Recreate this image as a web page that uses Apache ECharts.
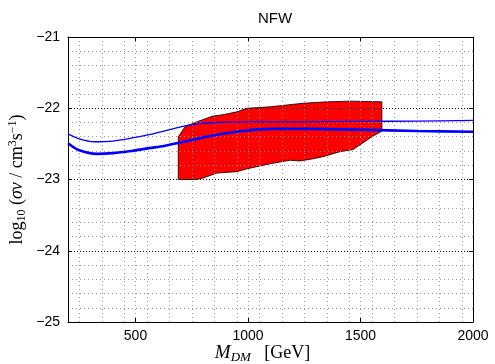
<!DOCTYPE html>
<html><head><meta charset="utf-8">
<script src="https://cdn.jsdelivr.net/npm/echarts@6/dist/echarts.min.js"></script>
<style>html,body{margin:0;padding:0;background:#fff}#c{width:495px;height:364px}</style>
</head><body><div id="c"></div>
<script>
// Data
const xTicks = [500, 1000, 1500, 2000];
const yTicks = [-25, -24, -23, -22, -21];

const thinX = [200, 250, 316, 400, 480, 560, 627, 700, 773, 850, 1000, 1250, 1500, 1750, 2000];
const thinY = [-22.36, -22.43, -22.47, -22.46, -22.42, -22.37, -22.32, -22.26, -22.22, -22.2, -22.19, -22.19, -22.185, -22.18, -22.17];

const thickX = [200, 250, 329, 400, 480, 560, 627, 700, 773, 850, 951, 1098, 1275, 1500, 1750, 2000];
const thickY = [-22.49, -22.59, -22.64, -22.63, -22.6, -22.56, -22.53, -22.48, -22.43, -22.38, -22.33, -22.29, -22.29, -22.3, -22.32, -22.33];

const regionX = [690, 690, 720, 773, 844, 889, 951, 996, 1098, 1244, 1351, 1453, 1595, 1595, 1551, 1467, 1409, 1333, 1289, 1231, 1187, 1098, 996, 951, 862, 800, 773, 690];
const regionY = [-23.0, -22.40, -22.26, -22.19, -22.11, -22.09, -22.05, -22.0, -21.98, -21.93, -21.91, -21.90, -21.91, -22.32, -22.40, -22.58, -22.61, -22.68, -22.71, -22.74, -22.73, -22.78, -22.85, -22.89, -22.91, -22.98, -23.0, -23.0];

const chart = echarts.init(document.getElementById('c'), null, {renderer: 'canvas'});
const fmtY = v => (v < 0 ? '\u2212' + Math.abs(v) : String(v));
const labelFont = {fontFamily: 'Liberation Sans', fontSize: 14, color: '#000'};
const gridMajor = {show: true, lineStyle: {type: [1, 2], color: '#000', width: 1}};
const gridMinor = {show: true, lineStyle: {type: [1, 3], color: '#999', width: 1}};

chart.setOption({
  animation: false,
  title: {text: 'NFW', left: 270, top: 6, textAlign: 'center',
    textStyle: {fontFamily: 'Liberation Sans', fontSize: 15, fontWeight: 'normal', color: '#000'}},
  grid: {left: 68, right: 22, top: 37, bottom: 42, outerBoundsMode: 'none', containLabel: false},
  xAxis: [{
    type: 'value', min: 200, max: 2000, interval: 100, z: 3,
    axisLine: {show: true, onZero: false, lineStyle: {color: '#000', width: 1}},
    axisTick: {show: true, inside: true, length: 4, customValues: xTicks, lineStyle: {color: '#000'}},
    axisLabel: {customValues: xTicks, margin: 7, formatter: v => String(v), ...labelFont},
    splitLine: {show: true, lineStyle: {type: [1, 3], color: '#999', width: 1}},
    minorTick: {show: false, splitNumber: 2},
    minorSplitLine: gridMinor,
    name: '{m|M}{s|DM}    {r|[GeV]}', nameLocation: 'middle', nameGap: 20, nameMoveOverlap: false,
    nameTextStyle: {rich: {
      m: {fontFamily: 'Liberation Serif', fontStyle: 'italic', fontSize: 19, color: '#000'},
      s: {fontFamily: 'Liberation Serif', fontStyle: 'italic', fontSize: 13, color: '#000', padding: [9, 0, 0, 0]},
      r: {fontFamily: 'Liberation Serif', fontSize: 18, color: '#000'}
    }, padding: [0, 16, 0, 0]}
  }, {
    type: 'value', min: 200, max: 2000, position: 'top', z: 3,
    axisLine: {show: true, onZero: false, lineStyle: {color: '#000', width: 1}},
    axisTick: {show: true, inside: true, length: 4, customValues: [500, 1000, 1500], lineStyle: {color: '#000'}},
    axisLabel: {show: false}, splitLine: {show: false}
  }],
  yAxis: [{
    type: 'value', min: -25, max: -21, interval: 1, z: 3,
    axisLine: {show: true, onZero: false, lineStyle: {color: '#000', width: 1}},
    axisTick: {show: true, inside: true, length: 4, lineStyle: {color: '#000'}},
    axisLabel: {formatter: fmtY, margin: 8, ...labelFont},
    splitLine: gridMajor,
    minorTick: {show: false, splitNumber: 5},
    minorSplitLine: gridMinor,
    name: '{n|log}{s|10}{n| (}{i|σv}{n| / cm}{p|3}{n|s}{p|−1}{n|)}',
    nameLocation: 'middle', nameGap: 40, nameRotate: 90, nameMoveOverlap: false,
    nameTextStyle: {rich: {
      n: {fontFamily: 'Liberation Serif', fontSize: 18, color: '#000'},
      i: {fontFamily: 'Liberation Serif', fontStyle: 'italic', fontSize: 18, color: '#000'},
      s: {fontFamily: 'Liberation Serif', fontSize: 12, color: '#000', padding: [10, 0, 0, 0]},
      p: {fontFamily: 'Liberation Serif', fontSize: 12, color: '#000', padding: [0, 0, 9, 0]}
    }}
  }, {
    type: 'value', min: -25, max: -21, interval: 1, position: 'right', z: 3,
    axisLine: {show: true, onZero: false, lineStyle: {color: '#000', width: 1}},
    axisTick: {show: true, inside: true, length: 4, lineStyle: {color: '#000'}},
    axisLabel: {show: false}, splitLine: {show: false}
  }],
  series: [{
    type: 'custom', z: 1, clip: true,
    data: regionX.map((x, i) => [x, regionY[i]]),
    renderItem: (params, api) => {
      if (params.dataIndex !== 0) return null;
      const pts = regionX.map((x, i) => api.coord([x, regionY[i]]));
      return {type: 'polygon', shape: {points: pts},
        style: {fill: '#ff0000', stroke: '#000', lineWidth: 0.8}};
    }
  }, {
    type: 'line', z: 5, showSymbol: false, smooth: 0.3,
    data: thinX.map((x, i) => [x, thinY[i]]),
    lineStyle: {color: '#0000ff', width: 1.3}
  }, {
    type: 'line', z: 5, showSymbol: false, smooth: 0.3,
    data: thickX.map((x, i) => [x, thickY[i]]),
    lineStyle: {color: '#0000ff', width: 2.6}
  }]
});
</script></body></html>
